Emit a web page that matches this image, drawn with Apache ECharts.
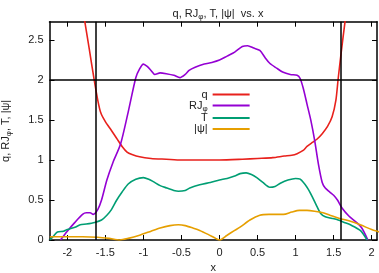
<!DOCTYPE html>
<html>
<head>
<meta charset="utf-8">
<script src="https://cdn.jsdelivr.net/npm/echarts@6/dist/echarts.min.js"></script>
<style>html,body{margin:0;padding:0;background:#fff}#c{width:379px;height:273px}</style>
</head>
<body>
<div id="c"></div>
<script>
const xTicks = [-2, -1.5, -1, -0.5, 0, 0.5, 1, 1.5, 2];
const yTicks = [0, 0.5, 1, 1.5, 2, 2.5];
const xMarks = [-1.62, 1.6];
const yMarks = [2];

const qX = [-1.95, -1.85, -1.77, -1.71, -1.65, -1.6, -1.56, -1.5, -1.42, -1.35, -1.28, -1.215, -1.15, -1.05, -0.9, -0.7, -0.5, -0.3, 0, 0.3, 0.5, 0.7, 0.85, 0.95, 1.02, 1.1, 1.15, 1.22, 1.28, 1.35, 1.42, 1.48, 1.53, 1.56, 1.6, 1.65, 1.72];
const qY = [3.8, 3.2, 2.73, 2.38, 2.02, 1.75, 1.59, 1.48, 1.37, 1.27, 1.17, 1.1, 1.07, 1.04, 1.02, 1.01, 1.0, 1.0, 1.0, 1.01, 1.02, 1.03, 1.05, 1.06, 1.08, 1.12, 1.17, 1.22, 1.26, 1.33, 1.42, 1.54, 1.75, 2.02, 2.35, 2.73, 3.2];

const rjX = [-2.09, -2.0, -1.9, -1.8, -1.75, -1.7, -1.66, -1.6, -1.55, -1.48, -1.4, -1.3, -1.2, -1.1, -1.05, -1.0, -0.95, -0.9, -0.85, -0.78, -0.7, -0.6, -0.52, -0.45, -0.4, -0.32, -0.2, -0.1, 0, 0.1, 0.2, 0.3, 0.37, 0.45, 0.53, 0.6, 0.66, 0.75, 0.83, 0.93, 1.02, 1.06, 1.1, 1.15, 1.2, 1.25, 1.3, 1.35, 1.39, 1.45, 1.5, 1.55, 1.61, 1.7, 1.8, 1.87, 1.95];
const rjY = [0, 0.11, 0.22, 0.32, 0.34, 0.34, 0.32, 0.38, 0.5, 0.75, 0.97, 1.2, 1.6, 2.03, 2.14, 2.2, 2.17, 2.12, 2.07, 2.09, 2.08, 2.06, 2.03, 2.07, 2.12, 2.16, 2.2, 2.22, 2.25, 2.3, 2.35, 2.42, 2.43, 2.4, 2.37, 2.28, 2.21, 2.15, 2.1, 2.07, 2.06, 2.02, 1.9, 1.7, 1.5, 1.25, 0.95, 0.72, 0.65, 0.6, 0.56, 0.5, 0.4, 0.3, 0.22, 0.15, 0];

const tX = [-2.23, -2.18, -2.13, -2.05, -2.0, -1.9, -1.83, -1.75, -1.64, -1.55, -1.48, -1.42, -1.35, -1.28, -1.2, -1.1, -1.0, -0.93, -0.87, -0.78, -0.69, -0.6, -0.54, -0.45, -0.39, -0.26, -0.12, 0, 0.1, 0.2, 0.27, 0.35, 0.42, 0.49, 0.57, 0.66, 0.73, 0.8, 0.9, 1.0, 1.06, 1.15, 1.22, 1.28, 1.33, 1.39, 1.48, 1.56, 1.64, 1.72, 1.85, 1.94];
const tY = [0, 0.05, 0.1, 0.11, 0.13, 0.16, 0.19, 0.2, 0.22, 0.25, 0.31, 0.38, 0.5, 0.6, 0.7, 0.76, 0.78, 0.76, 0.73, 0.68, 0.65, 0.62, 0.61, 0.62, 0.65, 0.69, 0.72, 0.75, 0.77, 0.8, 0.83, 0.84, 0.82, 0.78, 0.72, 0.66, 0.67, 0.71, 0.75, 0.77, 0.76, 0.66, 0.54, 0.42, 0.33, 0.29, 0.27, 0.25, 0.22, 0.19, 0.12, 0];

const psiX = [-2.23, -2.0, -1.8, -1.6, -1.45, -1.31, -1.2, -1.05, -0.9, -0.78, -0.65, -0.54, -0.45, -0.35, -0.26, -0.15, -0.05, 0, 0.1, 0.2, 0.27, 0.4, 0.53, 0.65, 0.75, 0.84, 0.95, 1.05, 1.15, 1.25, 1.36, 1.45, 1.58, 1.7, 1.85, 2.0, 2.1];
const psiY = [0.04, 0.04, 0.04, 0.035, 0.02, 0, 0.02, 0.06, 0.11, 0.15, 0.18, 0.19, 0.18, 0.15, 0.12, 0.07, 0.02, 0, 0.06, 0.12, 0.16, 0.25, 0.31, 0.32, 0.32, 0.32, 0.35, 0.37, 0.37, 0.36, 0.34, 0.31, 0.27, 0.24, 0.19, 0.13, 0.1];

const zip = (a, b) => a.map((v, i) => [v, b[i]]);
const FONT = 'Liberation Sans';
const TXT = '#222';
const XMIN = -2.234, XMAX = 2.07, YMIN = 0, YMAX = 2.73;
const RICH = {a: {color: TXT, fontFamily: FONT, fontSize: 11}, s: {color: TXT, fontFamily: FONT, fontSize: 8, verticalAlign: 'bottom', padding: [6, 0, 0, 0]}};

function xAxisCfg(pos, labels) {
  return {
    type: 'value', position: pos, min: XMIN, max: XMAX,
    axisLine: {show: true, onZero: false, lineStyle: {color: '#000', width: 1.5}},
    axisTick: {show: true, inside: true, length: 5, customValues: xTicks, lineStyle: {color: '#000', width: 1}},
    axisLabel: {show: labels, customValues: xTicks, margin: 7, color: TXT, fontFamily: FONT, fontSize: 11},
    splitLine: {show: false}
  };
}
function yAxisCfg(pos, labels) {
  return {
    type: 'value', position: pos, min: YMIN, max: YMAX,
    axisLine: {show: true, onZero: false, lineStyle: {color: '#000', width: 1.5}},
    axisTick: {show: true, inside: true, length: 5, customValues: yTicks, lineStyle: {color: '#000', width: 1}},
    axisLabel: {show: labels, customValues: yTicks, margin: 6, color: TXT, fontFamily: FONT, fontSize: 11},
    splitLine: {show: false}
  };
}
const xa = [xAxisCfg('bottom', true), xAxisCfg('top', false)];
xa[0].name = 'x'; xa[0].nameLocation = 'middle'; xa[0].nameGap = 20;
xa[0].nameTextStyle = {color: TXT, fontFamily: FONT, fontSize: 11};
const ya = [yAxisCfg('left', true), yAxisCfg('right', false)];
ya[0].name = '{a|q, RJ}{s|φ}{a|, T, |ψ|}';
ya[0].nameLocation = 'middle'; ya[0].nameGap = 37;
ya[0].nameTextStyle = {color: TXT, fontFamily: FONT, fontSize: 11, rich: RICH};

function lineSeries(name, data, color) {
  return {name, type: 'line', data, xAxisIndex: 0, yAxisIndex: 0, showSymbol: false, symbol: 'none',
    smooth: 0.25, clip: true, lineStyle: {color, width: 1.6}, itemStyle: {color}, animation: false};
}
const s = [
  lineSeries('q', zip(qX, qY), '#e8211c'),
  lineSeries('RJφ', zip(rjX, rjY), '#9400d3'),
  lineSeries('T', zip(tX, tY), '#009e73'),
  lineSeries('|ψ|', zip(psiX, psiY), '#e69f00')
];
s[0].markLine = {silent: true, symbol: ['none', 'none'], label: {show: false}, animation: false,
  lineStyle: {color: '#000', type: 'solid', width: 1.5},
  data: xMarks.map(v => ({xAxis: v})).concat(yMarks.map(v => ({yAxis: v})))};

const chart = echarts.init(document.getElementById('c'), null, {renderer: 'canvas'});
chart.setOption({
  animation: false,
  backgroundColor: '#fff',
  title: {text: '{a|q, RJ}{s|φ}{a|, T, |ψ|  vs. x}', left: 213, top: 2, textAlign: 'center',
    textStyle: {color: TXT, fontFamily: FONT, fontSize: 11, fontWeight: 'normal', rich: RICH}},
  grid: {left: 49.5, right: 2, top: 21.7, bottom: 33, containLabel: false, outerBoundsMode: 'none'},
  xAxis: xa,
  yAxis: ya,
  legend: {orient: 'vertical', align: 'right', left: 184, top: 84, itemWidth: 37, itemHeight: 2, itemGap: 0,
    icon: 'rect',
    data: ['q', 'RJφ', 'T', '|ψ|'],
    formatter: n => n === 'RJφ' ? '{a|RJ}{s|φ}' : n,
    textStyle: {color: TXT, fontFamily: FONT, fontSize: 11, rich: RICH},
    selectedMode: false},
  series: s
});
</script>
</body>
</html>
